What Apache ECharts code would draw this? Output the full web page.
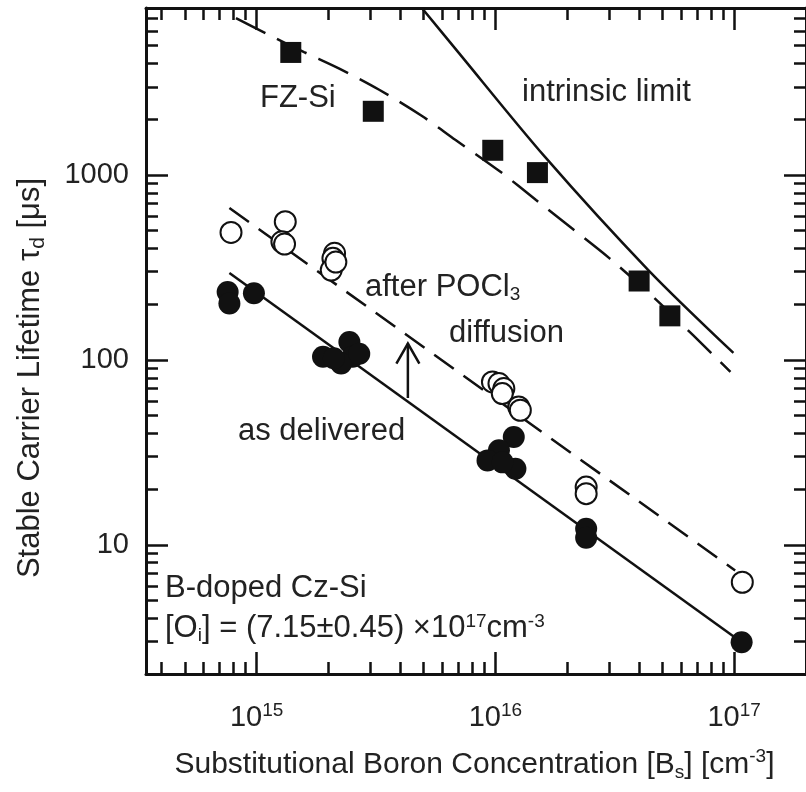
<!DOCTYPE html>
<html>
<head>
<meta charset="utf-8">
<script src="https://cdn.jsdelivr.net/npm/echarts@6/dist/echarts.min.js"></script>
<style>
  html, body { margin: 0; padding: 0; background: #fff; }
  #chart { width: 806px; height: 792px; }
</style>
</head>
<body>
<div id="chart"></div>
<script>
// Float-zone silicon: measured lifetimes (squares) and the dashed trend curve
const fzBoron = [1.39e15, 3.08e15, 9.75e15, 1.50e16, 4.0e16, 5.38e16];
const fzLifetime = [4600, 2210, 1360, 1030, 267, 173];
const fzTrendBoron = [8.19e14, 1.124e15, 1.58e15, 2.23e15, 3.26e15, 4.91e15, 6.79e15, 1.05e16, 1.48e16, 2.11e16, 3.0e16, 4.6e16, 6.73e16, 9.65e16];
const fzTrendLifetime = [7060, 5730, 4620, 3750, 2890, 2090, 1550, 1040, 732, 510, 355, 218, 136, 86];

// Intrinsic lifetime limit
const intrinsicBoron = [4.91e15, 6.86e15, 1.61e16, 4.37e16, 9.93e16];
const intrinsicLifetime = [8030, 4750, 1256, 306, 109];

// Cz-Si after POCl3 diffusion (open circles) and its fit
const czAnnealedBoron = [7.81e14, 1.318e15, 1.276e15, 1.309e15, 2.12e15, 2.087e15, 2.053e15, 2.147e15, 9.72e15, 1.035e16, 1.085e16, 1.069e16, 1.252e16, 1.272e16, 2.40e16, 2.40e16, 1.082e17];
const czAnnealedLifetime = [489, 559, 435, 423, 377, 354, 306, 338, 76, 74.5, 70, 65.7, 55.6, 53.4, 20.5, 18.9, 6.27];
const czAnnealedFitBoron = [7.69e14, 1.01e17];
const czAnnealedFitLifetime = [663, 7.26];

// Cz-Si as delivered (filled circles) and its fit
const czDeliveredBoron = [7.56e14, 7.69e14, 9.74e14, 1.897e15, 2.446e15, 2.524e15, 2.258e15, 2.69e15, 2.106e15, 1.194e16, 1.035e16, 9.27e15, 1.213e16, 1.072e16, 2.40e16, 2.40e16, 1.075e17];
const czDeliveredLifetime = [233, 202, 229, 104, 125, 104, 95.5, 108, 102, 38.3, 32.4, 28.6, 25.8, 27.9, 12.2, 10.9, 2.97];
const czDeliveredFitBoron = [7.69e14, 1.075e17];
const czDeliveredFitLifetime = [295, 2.97];

// Arrow from "as delivered" up to "after POCl3"
const arrowBoron = 4.3e15;
const arrowLifetime = [62.2, 122.6];

// Axis ranges and tick values
const xMin = 3.44e14, xMax = 2e17;
const yMin = 2, yMax = 8000;
const xMajorTicks = [1e15, 1e16, 1e17];
const xMinorTicks = [4e14, 5e14, 6e14, 7e14, 8e14, 9e14,
  2e15, 3e15, 4e15, 5e15, 6e15, 7e15, 8e15, 9e15,
  2e16, 3e16, 4e16, 5e16, 6e16, 7e16, 8e16, 9e16];
const yMajorTicks = [10, 100, 1000];
const yMinorTicks = [3, 4, 5, 6, 7, 8, 9,
  20, 30, 40, 50, 60, 70, 80, 90,
  200, 300, 400, 500, 600, 700, 800, 900,
  2000, 3000, 4000, 5000, 6000, 7000];

const INK = '#111111';
const TEXT = '#222222';
const FONT = '"Liberation Sans", Arial, Helvetica, sans-serif';

const zip = (xs, ys) => xs.map((x, i) => [x, ys[i]]);

function axisPair(position, majors, minors, min, max) {
  const base = {
    type: 'log', logBase: 10, min: min, max: max, position: position,
    splitLine: { show: false }, minorTick: { show: false }, minorSplitLine: { show: false },
    axisPointer: { show: false }
  };
  const major = Object.assign({}, base, {
    axisLine: { show: true, onZero: false, lineStyle: { color: INK, width: 3 } },
    axisTick: { show: true, inside: true, length: 22, customValues: majors, lineStyle: { color: INK, width: 2.5 } },
    axisLabel: { show: false }
  });
  const minor = Object.assign({}, base, {
    axisLine: { show: false },
    axisTick: { show: true, inside: true, length: 12, customValues: minors, lineStyle: { color: INK, width: 2.5 } },
    axisLabel: { show: false }
  });
  return [major, minor];
}

const [xBottomMajor, xBottomMinor] = axisPair('bottom', xMajorTicks, xMinorTicks, xMin, xMax);
const [xTopMajor, xTopMinor] = axisPair('top', xMajorTicks, xMinorTicks, xMin, xMax);
const [yLeftMajor, yLeftMinor] = axisPair('left', yMajorTicks, yMinorTicks, yMin, yMax);
const [yRightMajor, yRightMinor] = axisPair('right', yMajorTicks, yMinorTicks, yMin, yMax);

xBottomMajor.axisLabel = {
  show: true, customValues: xMajorTicks, margin: 27,
  color: TEXT, fontFamily: FONT, fontSize: 29, lineHeight: 34,
  formatter: v => '10{sup|' + Math.round(Math.log10(v)) + '}',
  rich: { sup: { fontSize: 19, lineHeight: 19, verticalAlign: 'top', color: TEXT, fontFamily: FONT } }
};
xBottomMajor.name = 'Substitutional Boron Concentration [B{sub|s}] [cm{sup|-3}]';
xBottomMajor.nameLocation = 'middle';
xBottomMajor.nameGap = 73;
xBottomMajor.nameTextStyle = {
  color: TEXT, fontFamily: FONT, fontSize: 30, lineHeight: 35, padding: [0, 3, 0, 0],
  rich: {
    sub: { fontSize: 19, lineHeight: 19, verticalAlign: 'bottom', color: TEXT, fontFamily: FONT },
    sup: { fontSize: 19, lineHeight: 19, verticalAlign: 'top', color: TEXT, fontFamily: FONT }
  }
};

yLeftMajor.axisLabel = {
  show: true, customValues: yMajorTicks, margin: 17,
  color: TEXT, fontFamily: FONT, fontSize: 29,
  formatter: v => String(Math.round(v))
};
yLeftMajor.name = 'Stable Carrier Lifetime τ{sub|d} [μs]';
yLeftMajor.nameLocation = 'middle';
yLeftMajor.nameGap = 97;
yLeftMajor.nameTextStyle = {
  color: TEXT, fontFamily: FONT, fontSize: 31, lineHeight: 37, padding: [0, 74, 0, 0],
  rich: { sub: { fontSize: 21, lineHeight: 21, verticalAlign: 'bottom', color: TEXT, fontFamily: FONT } }
};

const chart = echarts.init(document.getElementById('chart'), null, { renderer: 'canvas' });

function note(text, left, baseline, size) {
  const fs = size || 31;
  return {
    type: 'text', silent: true, z: 50,
    style: {
      text: text, x: left, y: baseline - fs * 0.36,
      fontSize: fs, fontFamily: FONT, fill: TEXT, lineHeight: 38,
      align: 'left', verticalAlign: 'middle',
      rich: {
        sub: { fontSize: 19, lineHeight: 38, fontFamily: FONT, fill: TEXT, padding: [14, 0, 0, 0] },
        sup: { fontSize: 19, lineHeight: 38, fontFamily: FONT, fill: TEXT, padding: [0, 0, 14, 0] }
      }
    }
  };
}

const scatterBase = { type: 'scatter', xAxisIndex: 0, yAxisIndex: 0, z: 5, animation: false };
const lineBase = { type: 'line', xAxisIndex: 0, yAxisIndex: 0, symbol: 'none', z: 3, animation: false, clip: true };

chart.setOption({
  backgroundColor: '#ffffff',
  animation: false,
  grid: { left: 146, top: 8, width: 669, height: 666, containLabel: false },
  xAxis: [xBottomMajor, xBottomMinor, xTopMajor, xTopMinor],
  yAxis: [yLeftMajor, yLeftMinor, yRightMajor, yRightMinor],
  series: [
    Object.assign({}, lineBase, {
      name: 'intrinsic limit', data: zip(intrinsicBoron, intrinsicLifetime), smooth: 0.3,
      lineStyle: { color: INK, width: 2.5, type: 'solid', opacity: 1 }
    }),
    Object.assign({}, lineBase, {
      name: 'FZ-Si trend', data: zip(fzTrendBoron, fzTrendLifetime), smooth: 0.3,
      lineStyle: { color: INK, width: 2.5, type: [33, 13], opacity: 1 }
    }),
    Object.assign({}, lineBase, {
      name: 'after POCl3 fit', data: zip(czAnnealedFitBoron, czAnnealedFitLifetime),
      lineStyle: { color: INK, width: 2.5, type: [24, 12], opacity: 1 }
    }),
    Object.assign({}, lineBase, {
      name: 'as delivered fit', data: zip(czDeliveredFitBoron, czDeliveredFitLifetime),
      lineStyle: { color: INK, width: 2.5, type: 'solid', opacity: 1 }
    }),
    Object.assign({}, scatterBase, {
      name: 'FZ-Si', data: zip(fzBoron, fzLifetime), symbol: 'rect', symbolSize: 21,
      itemStyle: { color: INK, opacity: 1 }
    }),
    Object.assign({}, scatterBase, {
      name: 'after POCl3 diffusion', data: zip(czAnnealedBoron, czAnnealedLifetime), symbol: 'circle', symbolSize: 21,
      itemStyle: { color: '#ffffff', borderColor: INK, borderWidth: 2, opacity: 1 }
    }),
    Object.assign({}, scatterBase, {
      name: 'as delivered', data: zip(czDeliveredBoron, czDeliveredLifetime), symbol: 'circle', symbolSize: 22,
      itemStyle: { color: INK, opacity: 1 }
    }),
    {
      type: 'custom', name: 'arrow', xAxisIndex: 0, yAxisIndex: 0, z: 6, animation: false,
      data: [[arrowBoron, arrowLifetime[0], arrowLifetime[1]]],
      encode: { x: 0, y: [1, 2] },
      renderItem: function (params, api) {
        const p0 = api.coord([api.value(0), api.value(1)]);
        const p1 = api.coord([api.value(0), api.value(2)]);
        const st = { stroke: INK, lineWidth: 2.5, fill: null };
        return {
          type: 'group',
          children: [
            { type: 'line', shape: { x1: p0[0], y1: p0[1], x2: p1[0], y2: p1[1] }, style: st },
            { type: 'polyline', shape: { points: [[p1[0] - 11.5, p1[1] + 20], [p1[0], p1[1]], [p1[0] + 11.5, p1[1] + 20]] }, style: st }
          ]
        };
      }
    }
  ],
  graphic: [
    note('FZ-Si', 260, 110),
    note('intrinsic limit', 522, 104),
    note('after POCl{sub|3}', 365, 299),
    note('diffusion', 449, 345),
    note('as delivered', 238, 443),
    note('B-doped Cz-Si', 165, 600),
    note('[O{sub|i}] = (7.15±0.45) ×10{sup|17}cm{sup|-3}', 165, 640)
  ]
});
</script>
</body>
</html>
